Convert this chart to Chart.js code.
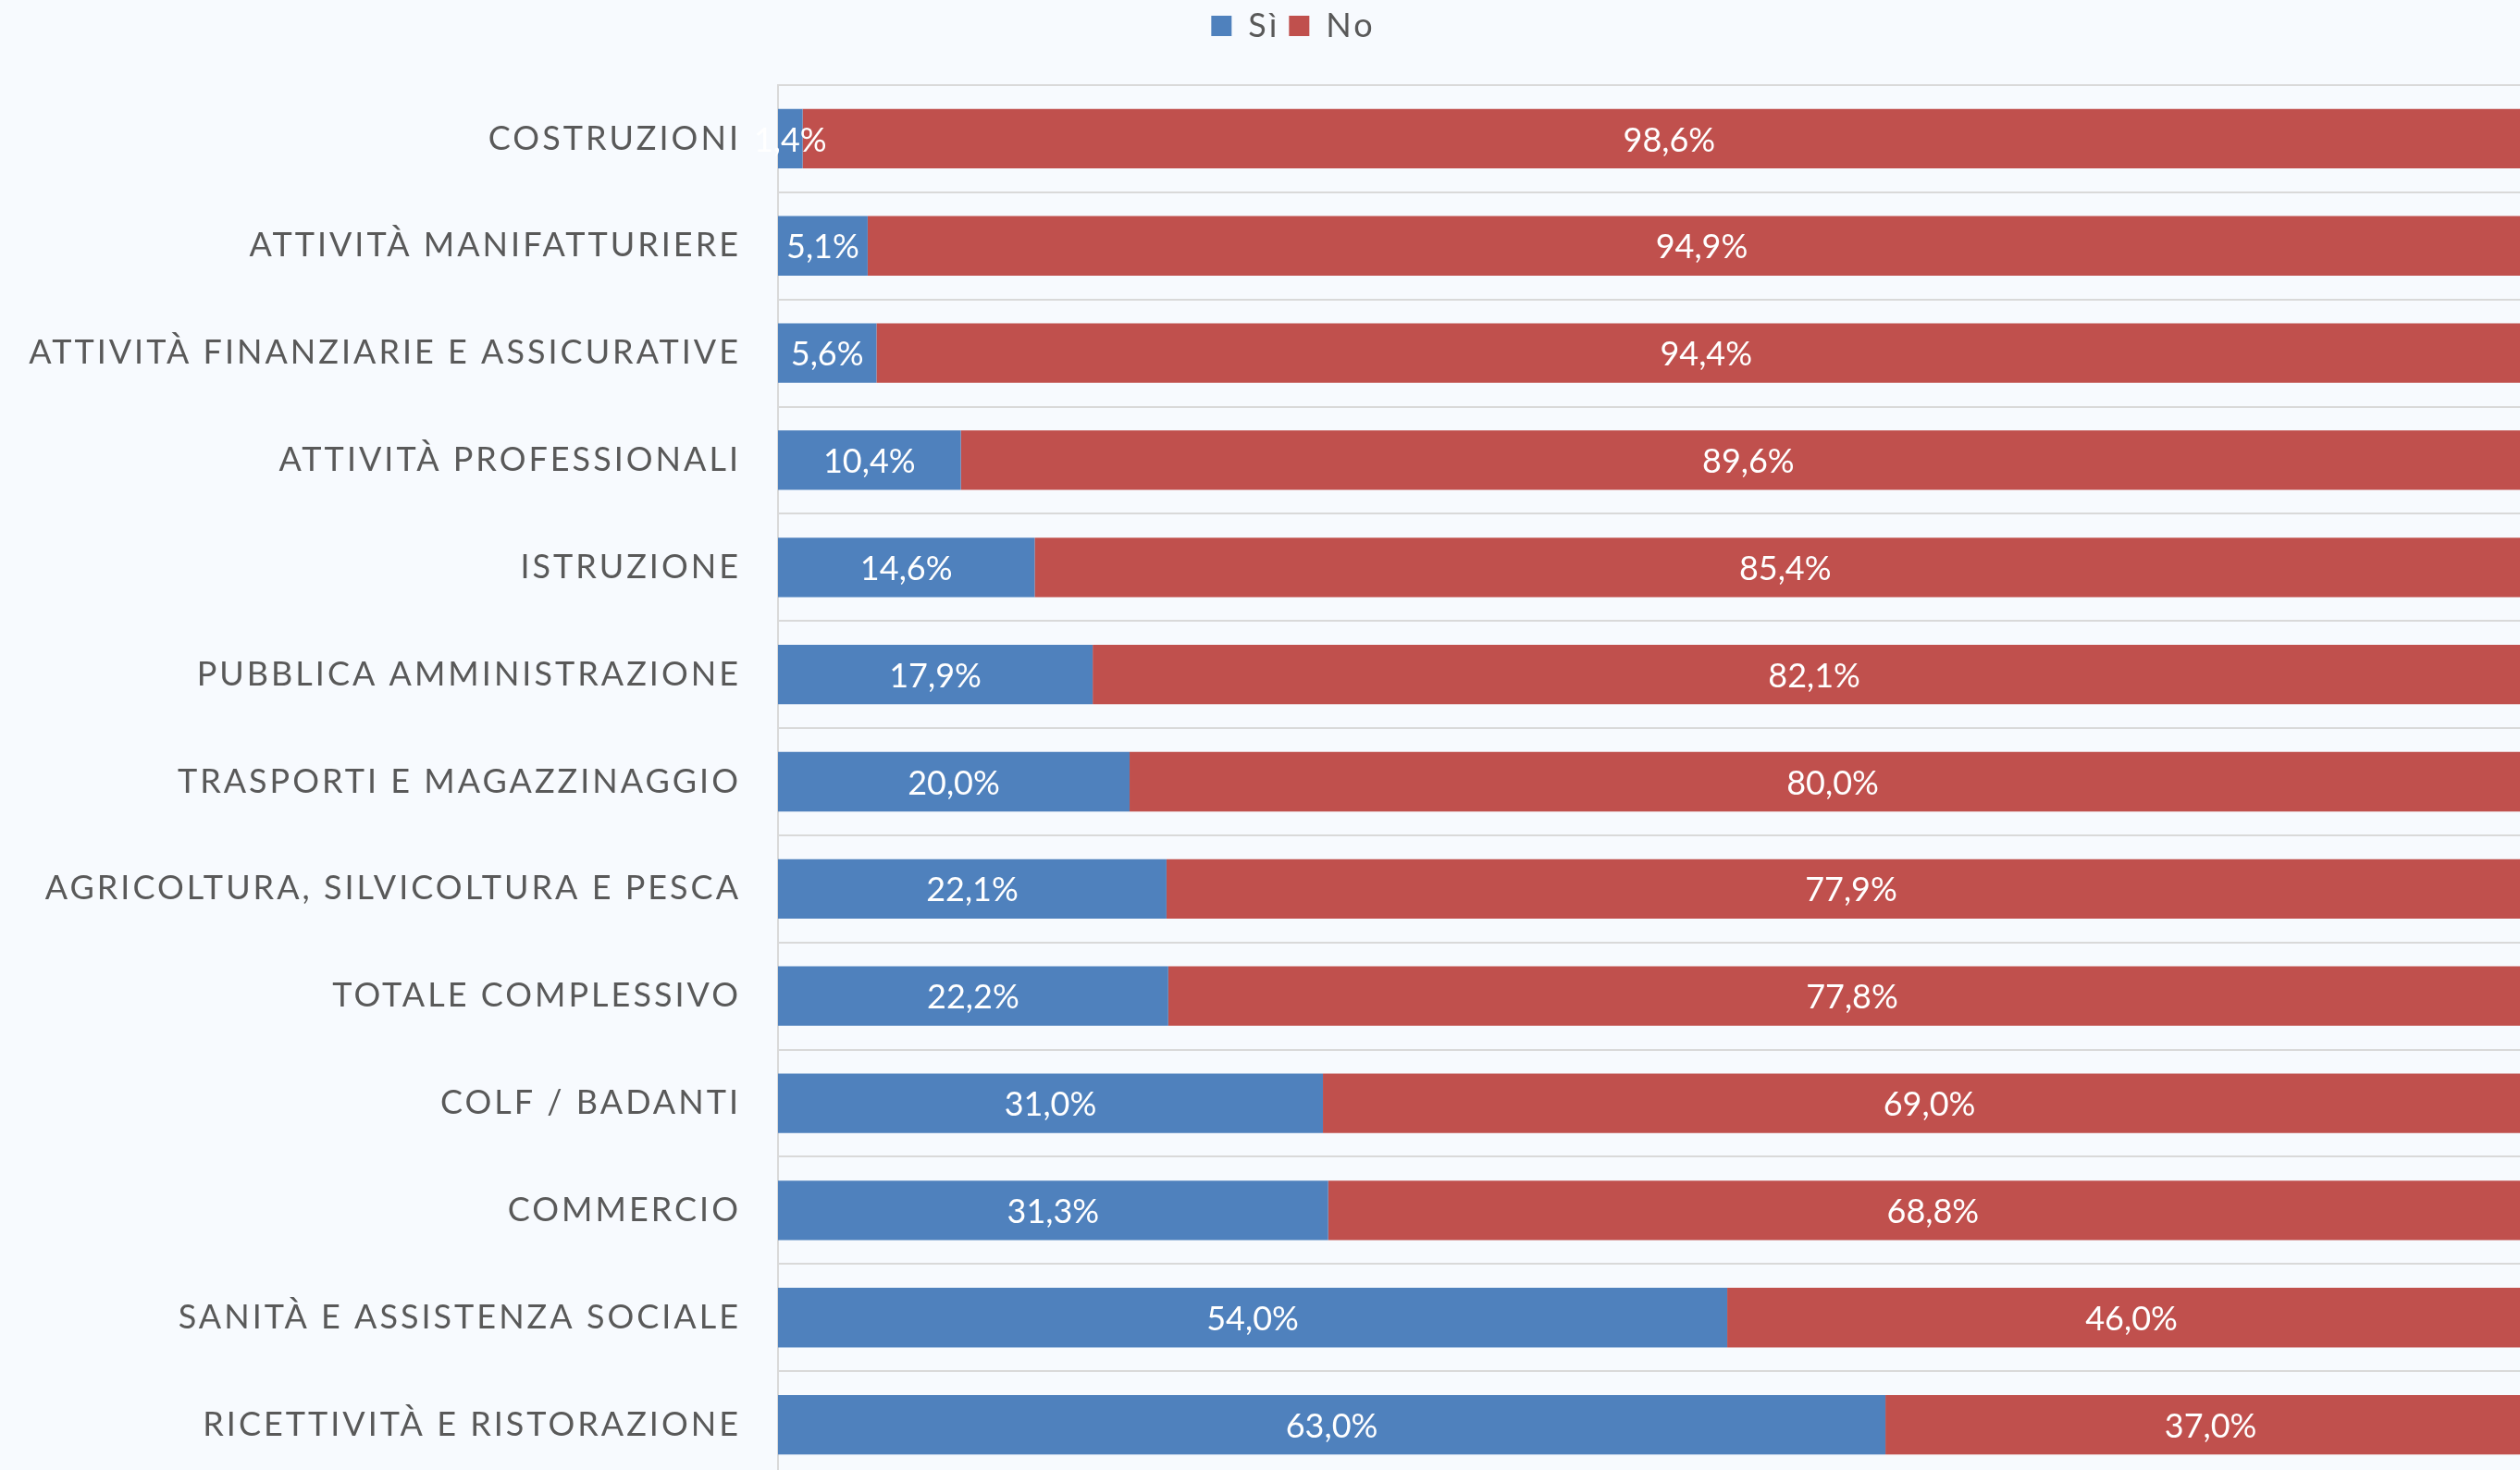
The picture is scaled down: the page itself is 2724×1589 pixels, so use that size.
<!DOCTYPE html>
<html>
<head>
<meta charset="utf-8">
<script src="https://cdn.jsdelivr.net/npm/chart.js@4.4.1/dist/chart.umd.min.js"></script>
<style>
    html, body { margin: 0; padding: 0; background: #F7FAFE; overflow: hidden; }
    #wrap { width: 2724px; height: 1598px; position: relative; }
</style>
</head>
<body>
<div id="wrap"><canvas id="sectorChart"></canvas></div>
<script>
const categories = [
    'COSTRUZIONI',
    'ATTIVITÀ MANIFATTURIERE',
    'ATTIVITÀ FINANZIARIE E ASSICURATIVE',
    'ATTIVITÀ PROFESSIONALI',
    'ISTRUZIONE',
    'PUBBLICA AMMINISTRAZIONE',
    'TRASPORTI E MAGAZZINAGGIO',
    'AGRICOLTURA, SILVICOLTURA E PESCA',
    'TOTALE COMPLESSIVO',
    'COLF / BADANTI',
    'COMMERCIO',
    'SANITÀ E ASSISTENZA SOCIALE',
    'RICETTIVITÀ E RISTORAZIONE'
];
const siValues = [1.4, 5.1, 5.6, 10.4, 14.6, 17.9, 20.0, 22.1, 22.2, 31.0, 31.3, 54.0, 63.0];
const noValues = [98.6, 94.9, 94.4, 89.6, 85.4, 82.1, 80.0, 77.9, 77.8, 69.0, 68.8, 46.0, 37.0];
const seriesNames = ['Sì', 'No'];

const fmt = v => v.toFixed(1).replace('.', ',') + '%';

// spaced out category labels like the original
const letterSpacing = {
    id: 'letterSpacing',
    beforeDraw(chart) { chart.ctx.letterSpacing = '3px'; },
    beforeDatasetsDraw(chart) { chart.ctx.letterSpacing = '0px'; }
};

// legend sits a bit right of centre and leaves room above the plot
const legendSpace = {
    id: 'legendSpace',
    afterInit(chart) {
        const lg = chart.legend;
        const fit = lg.fit.bind(lg);
        lg.fit = function() {
            fit();
            this.height = 92;
        };
    },
    afterLayout(chart) {
        chart.legend.left += 30;
        chart.legend.right += 30;
    }
};

// white value labels centred in each segment
const valueLabels = {
    id: 'valueLabels',
    afterDatasetsDraw(chart) {
        const ctx = chart.ctx;
        ctx.save();
        ctx.font = '36px Lato';
        ctx.fillStyle = '#FFFFFF';
        ctx.textAlign = 'center';
        ctx.textBaseline = 'middle';
        chart.data.datasets.forEach((ds, i) => {
            chart.getDatasetMeta(i).data.forEach((bar, j) => {
                const p = bar.getProps(['x', 'y', 'base'], true);
                ctx.fillText(fmt(ds.data[j]), (p.x + p.base) / 2, p.y + 2);
            });
        });
        ctx.restore();
    }
};

const ctx = document.getElementById('sectorChart').getContext('2d');
const sectorChart = new Chart(ctx, {
    type: 'bar',
    data: {
        labels: categories,
        datasets: [{
            label: seriesNames[0],
            data: siValues,
            backgroundColor: '#4F81BD',
            barPercentage: 0.555,
            categoryPercentage: 1
        }, {
            label: seriesNames[1],
            data: noValues,
            backgroundColor: '#C0504D',
            barPercentage: 0.555,
            categoryPercentage: 1
        }]
    },
    options: {
        indexAxis: 'y',
        responsive: true,
        maintainAspectRatio: false,
        animation: false,
        layout: { padding: 0 },
        scales: {
            x: {
                stacked: true,
                display: false,
                min: 0,
                max: 99.1
            },
            y: {
                stacked: true,
                afterFit: function(scale) {
                    scale.width = 841;
                    scale.paddingTop = 0;
                    scale.paddingBottom = 0;
                },
                grid: {
                    offset: true,
                    drawTicks: false,
                    color: '#D9D9D9',
                    lineWidth: 2
                },
                border: { display: true, color: '#D9D9D9', width: 2 },
                ticks: {
                    padding: 40,
                    color: '#595959',
                    font: { family: 'Lato', size: 36 }
                }
            }
        },
        plugins: {
            legend: {
                position: 'top',
                labels: {
                    boxWidth: 22,
                    boxHeight: 22,
                    padding: 10,
                    color: '#595959',
                    font: { family: 'Lato', size: 36 }
                }
            },
            tooltip: { enabled: false }
        }
    },
    plugins: [letterSpacing, legendSpace, valueLabels]
});
</script>
</body>
</html>
